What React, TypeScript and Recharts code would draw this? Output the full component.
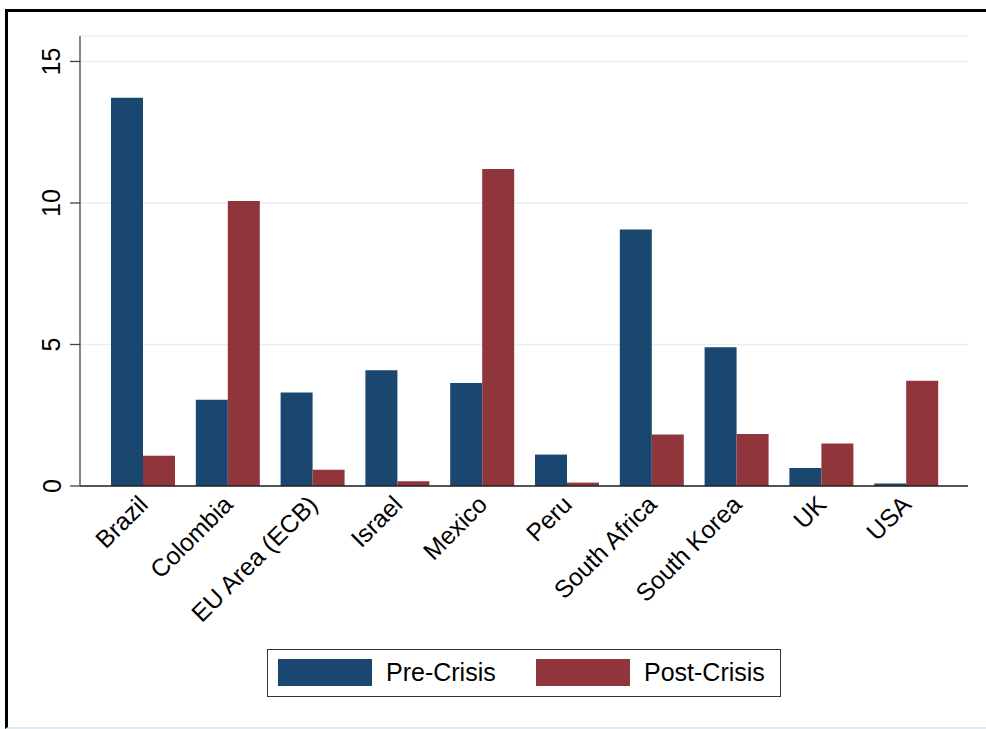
import React from 'react';
import { BarChart, Bar, XAxis, YAxis, CartesianGrid } from 'recharts';

// Countries on the category axis
const categories = [
  'Brazil',
  'Colombia',
  'EU Area (ECB)',
  'Israel',
  'Mexico',
  'Peru',
  'South Africa',
  'South Korea',
  'UK',
  'USA',
];

// Values per country, before and after the crisis
const preCrisis = [13.72, 3.05, 3.3, 4.09, 3.64, 1.11, 9.06, 4.9, 0.64, 0.09];
const postCrisis = [1.07, 10.07, 0.57, 0.17, 11.2, 0.12, 1.82, 1.84, 1.5, 3.72];

const yTicks = [0, 5, 10, 15];
const seriesNames = ['Pre-Crisis', 'Post-Crisis'];
const seriesColors = ['#1a476f', '#90353b'];

const FONT = '"Liberation Sans", Arial, Helvetica, sans-serif';

const rows = categories.map((name, i) => ({
  name,
  pre: preCrisis[i],
  post: postCrisis[i],
}));

const YTick = (props: any) => {
  const { x, y, payload } = props;
  return (
    <text
      x={x}
      y={y}
      transform={`rotate(-90, ${x}, ${y})`}
      textAnchor="middle"
      fontSize={25}
      fontFamily={FONT}
      fill="#000"
    >
      {payload.value}
    </text>
  );
};

const XTick = (props: any) => {
  const { x, y, payload } = props;
  return (
    <text
      x={x}
      y={y}
      dy="0.35em"
      transform={`rotate(-45, ${x}, ${y})`}
      textAnchor="end"
      fontSize={24.7}
      fontFamily={FONT}
      fill="#000"
    >
      {payload.value}
    </text>
  );
};

const LegendBox = () => (
  <div
    style={{
      position: 'absolute',
      left: 267,
      top: 649,
      width: 514,
      height: 48,
      boxSizing: 'border-box',
      border: '1.5px solid #333',
      background: '#fff',
    }}
  >
    {seriesNames.map((name, i) => (
      <React.Fragment key={name}>
        <div
          style={{
            position: 'absolute',
            left: 9.5 + i * 258,
            top: 9,
            width: 94,
            height: 27,
            background: seriesColors[i],
          }}
        />
        <div
          style={{
            position: 'absolute',
            left: 118 + i * 258,
            top: 0,
            height: 45,
            lineHeight: '45px',
            fontSize: 25,
            fontFamily: FONT,
            color: '#000',
            whiteSpace: 'nowrap',
          }}
        >
          {name}
        </div>
      </React.Fragment>
    ))}
  </div>
);

export default function App() {
  return (
    <div
      style={{
        position: 'absolute',
        left: 0,
        top: 0,
        width: 986,
        height: 729,
        background: '#fff',
        overflow: 'hidden',
      }}
    >
      {/* outer frame: dark rule on top and left, faint rule at the bottom */}
      <div
        style={{
          position: 'absolute',
          left: 5,
          top: 9,
          width: 981,
          height: 720,
          boxSizing: 'border-box',
          borderTop: '3px solid #000',
          borderLeft: '3px solid #000',
          borderBottom: '2px solid #e2eaee',
        }}
      />
      <div style={{ position: 'absolute', left: 0, top: 0 }}>
        <BarChart
          width={986}
          height={729}
          data={rows}
          margin={{ top: 36, right: 18, left: 0, bottom: 213 }}
          barGap={0}
          barSize={32}
        >
          <CartesianGrid
            vertical={false}
            stroke="#e6eff1"
            strokeWidth={1.6}
          />
          <XAxis
            dataKey="name"
            height={30}
            padding={{ left: 21, right: 19 }}
            tickLine={false}
            tickSize={0}
            tickMargin={14}
            axisLine={{ stroke: '#222', strokeWidth: 1.6 }}
            tick={<XTick />}
            interval={0}
          />
          <YAxis
            width={80}
            domain={[0, 15.9]}
            ticks={yTicks}
            allowDataOverflow
            tickSize={10}
            tickMargin={9.5}
            tickLine={{ stroke: '#444', strokeWidth: 1.3 }}
            axisLine={{ stroke: '#444', strokeWidth: 1.3 }}
            tick={<YTick />}
          />
          <Bar
            dataKey="pre"
            name={seriesNames[0]}
            fill={seriesColors[0]}
            isAnimationActive={false}
          />
          <Bar
            dataKey="post"
            name={seriesNames[1]}
            fill={seriesColors[1]}
            isAnimationActive={false}
          />
        </BarChart>
      </div>
      <LegendBox />
    </div>
  );
}
